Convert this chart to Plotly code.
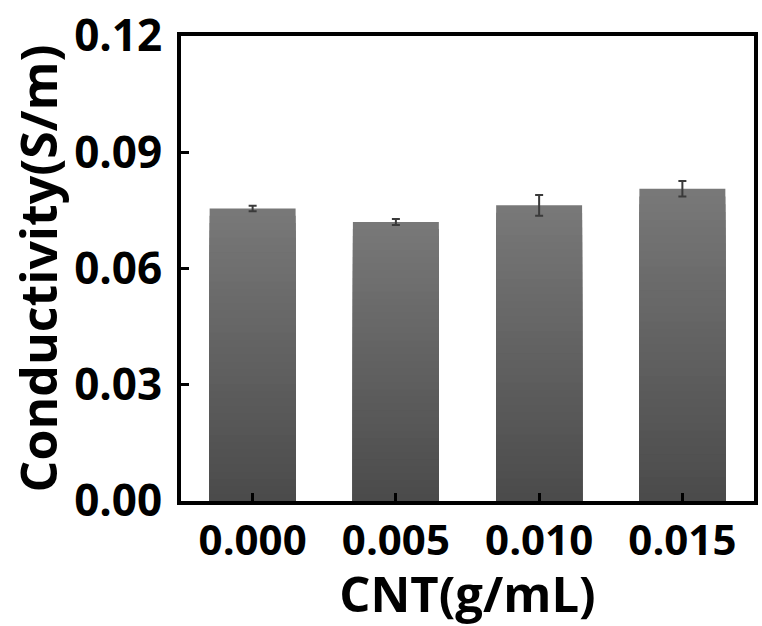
import plotly.graph_objects as go

categories = ["0.000", "0.005", "0.010", "0.015"]
conductivity = [0.0755, 0.0720, 0.0763, 0.0806]
errors = [0.0007, 0.0008, 0.0027, 0.0020]

N = 40
top_rgb = (0x78, 0x78, 0x78)
bot_rgb = (0x4a, 0x4a, 0x4a)

fig = go.Figure()
# gradient fill: overlayed bars from 0, tallest (lightest) first
for k in range(N):
    frac = (N - k) / N
    c = tuple(int(round(bot_rgb[i] + (top_rgb[i] - bot_rgb[i]) * frac)) for i in range(3))
    fig.add_trace(go.Bar(
        x=categories, y=[v * frac for v in conductivity],
        marker=dict(color=f"rgb{c}", line=dict(width=0)),
        width=0.6, showlegend=False, hoverinfo="skip"))

fig.add_trace(go.Scatter(
    x=categories, y=conductivity, mode="markers",
    marker=dict(size=1, color="rgba(0,0,0,0)"),
    error_y=dict(type="data", array=errors, visible=True, color="#3a3a3a", thickness=2, width=4),
    showlegend=False))

fig.update_layout(
    barmode="overlay",
    width=762, height=626,
    margin=dict(l=181, r=4, t=33, b=125),
    paper_bgcolor="white", plot_bgcolor="white",
    font=dict(family="Open Sans", size=40, color="black"),
    xaxis=dict(
        type="category", range=[-0.5, 3.5],
        showline=True, linewidth=4, linecolor="black", mirror=True,
        ticks="inside", ticklen=8, tickwidth=3, tickcolor="black",
        tickfont=dict(family="Open Sans", size=42, weight="bold"),
        ticklabelstandoff=0,
        title=dict(text="CNT(g/mL)", font=dict(family="Open Sans", size=49, weight="bold"), standoff=9),
        showgrid=False, zeroline=False),
    yaxis=dict(
        range=[0, 0.12], tickvals=[0, 0.03, 0.06, 0.09, 0.12],
        ticktext=["0.00", "0.03", "0.06", "0.09", "0.12"],
        showline=True, linewidth=4, linecolor="black", mirror=True,
        ticks="inside", ticklen=8, tickwidth=3, tickcolor="black",
        tickfont=dict(family="Open Sans", size=44, weight="bold"),
        ticklabelstandoff=6,
        title=dict(text="Conductivity(S/m)", font=dict(family="Open Sans", size=50, weight="bold"), standoff=2),
        showgrid=False, zeroline=False),
)

fig.write_html("out.html", config={"displayModeBar": False},
               post_script="document.body.style.margin='0';")
